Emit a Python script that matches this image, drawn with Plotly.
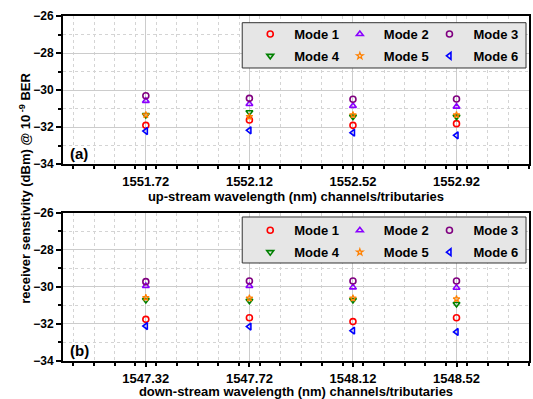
import plotly.graph_objects as go
from plotly.subplots import make_subplots

# Channel wavelengths (nm)
up_wavelengths = [1551.72, 1552.12, 1552.52, 1552.92]
down_wavelengths = [1547.32, 1547.72, 1548.12, 1548.52]

modes = ["Mode 1", "Mode 2", "Mode 3", "Mode 4", "Mode 5", "Mode 6"]

# Receiver sensitivity (dBm) @ 1e-9 BER, up-stream
up_mode1 = [-31.91, -31.62, -31.91, -31.82]
up_mode2 = [-30.59, -30.76, -30.86, -30.90]
up_mode3 = [-30.31, -30.45, -30.50, -30.49]
up_mode4 = [-31.35, -31.20, -31.44, -31.44]
up_mode5 = [-31.35, -31.44, -31.35, -31.35]
up_mode6 = [-32.22, -32.18, -32.31, -32.45]

# Receiver sensitivity (dBm) @ 1e-9 BER, down-stream
down_mode1 = [-31.75, -31.66, -31.87, -31.66]
down_mode2 = [-29.95, -29.95, -30.02, -30.04]
down_mode3 = [-29.71, -29.68, -29.68, -29.68]
down_mode4 = [-30.70, -30.74, -30.70, -30.92]
down_mode5 = [-30.58, -30.61, -30.61, -30.65]
down_mode6 = [-32.11, -32.14, -32.36, -32.43]

up_series = [up_mode1, up_mode2, up_mode3, up_mode4, up_mode5, up_mode6]
down_series = [down_mode1, down_mode2, down_mode3, down_mode4, down_mode5, down_mode6]

symbols = ["circle-open", "triangle-up-open", "circle-open",
           "triangle-down-open", "star-open", "triangle-left-open"]
colors = ["#ff0000", "#8a00ff", "#800080", "#008000", "#ff8000", "#0000ff"]

FONT = "Liberation Sans, Arial, sans-serif"
title_font = dict(family=FONT, size=13, color="black", weight="bold")

fig = make_subplots(rows=2, cols=1, vertical_spacing=0.142)

# Legend layout: three columns per panel (Mode 1/4, Mode 2/5, Mode 3/6)
top_legends = ["legend", "legend2", "legend3"]
bottom_legends = ["legend4", "legend5", "legend6"]


def marker_style(i):
    # the star glyph reads larger than the others, so draw it a bit smaller
    size = 5 if symbols[i].startswith("star") else 6
    width = 1.2 if symbols[i].startswith("star") else 1.6
    return dict(symbol=symbols[i], color=colors[i], size=size,
                line=dict(width=width, color=colors[i]))


for i, name in enumerate(modes):
    fig.add_trace(go.Scatter(
        x=up_wavelengths, y=up_series[i], mode="markers", name=name,
        marker=marker_style(i),
        legend=top_legends[i % 3], legendgroup="up" + name), row=1, col=1)
for i, name in enumerate(modes):
    fig.add_trace(go.Scatter(
        x=down_wavelengths, y=down_series[i], mode="markers", name=name,
        marker=marker_style(i),
        legend=bottom_legends[i % 3], legendgroup="down" + name), row=2, col=1)

xaxis_common = dict(
    dtick=0.4, ticks="outside", ticklen=4, tickwidth=1.5, tickcolor="black",
    showline=True, linewidth=2, linecolor="black", mirror=True,
    showgrid=True, gridcolor="#cccccc", gridwidth=1,
    minor=dict(dtick=0.08, ticks="outside", ticklen=3, tickcolor="black",
               showgrid=True, gridcolor="#d4d4d4", griddash="dot"),
    tickfont=dict(family=FONT, size=13, color="black", weight="bold"),
    zeroline=False,
)
fig.update_xaxes(range=[1551.40, 1553.20], tick0=1551.72,
                 tickformat=".2f", **xaxis_common,
                 title=dict(text="up-stream wavelength (nm) channels/tributaries",
                            font=title_font, standoff=0),
                 row=1, col=1)
fig.update_xaxes(range=[1547.00, 1548.80], tick0=1547.32,
                 tickformat=".2f", **xaxis_common,
                 title=dict(text="down-stream wavelength (nm) channels/tributaries",
                            font=title_font, standoff=0),
                 row=2, col=1)

fig.update_yaxes(
    range=[-34, -26], dtick=2, ticks="outside", ticklen=5, tickwidth=1.5,
    tickcolor="black", showline=True, linewidth=2, linecolor="black", mirror=True,
    showgrid=True, gridcolor="#cccccc", gridwidth=1,
    minor=dict(dtick=1, ticks="outside", ticklen=3, tickcolor="black",
               showgrid=True, gridcolor="#d4d4d4", griddash="dot"),
    tickfont=dict(family=FONT, size=12, color="black", weight="bold"),
    zeroline=False,
)

legend_common = dict(
    orientation="v", xanchor="left", yanchor="top",
    bgcolor="rgba(0,0,0,0)", borderwidth=0,
    font=dict(family=FONT, size=13, color="black", weight="bold"),
    itemwidth=38, tracegroupgap=2,
)
col_x = [0.3932, 0.5855, 0.7778]
legends = {}
for k, lg in enumerate(top_legends):
    legends[lg] = dict(x=col_x[k], y=0.9913, **legend_common)
for k, lg in enumerate(bottom_legends):
    legends[lg] = dict(x=col_x[k], y=0.4223, **legend_common)

# Legend frames (grey boxes behind the legend columns)
box_style = dict(type="rect", xref="paper", yref="paper", layer="above",
                 fillcolor="#e6e6e6", line=dict(color="#333333", width=1))
shapes = [
    dict(x0=0.3846, x1=0.9936, y0=0.8493, y1=0.9806, **box_style),
    dict(x0=0.3846, x1=0.9936, y0=0.2841, y1=0.4174, **box_style),
]

fig.update_layout(
    width=533, height=399,
    margin=dict(l=63, r=2, t=16, b=38),
    paper_bgcolor="white", plot_bgcolor="white",
    showlegend=True,
    shapes=shapes,
    annotations=[
        dict(text="receiver senstivity (dBm) @ 10<sup> -9</sup> BER",
             xref="paper", yref="paper", x=-0.083, y=0.5,
             xanchor="center", yanchor="middle", textangle=-90, showarrow=False,
             font=title_font),
        dict(text="(a)", xref="x domain", yref="y domain", x=0.01, y=0.0,
             xanchor="left", yanchor="bottom", showarrow=False,
             font=dict(family=FONT, size=15, color="black", weight="bold")),
        dict(text="(b)", xref="x2 domain", yref="y2 domain", x=0.01, y=0.0,
             xanchor="left", yanchor="bottom", showarrow=False,
             font=dict(family=FONT, size=15, color="black", weight="bold")),
    ],
    **legends,
)

fig.write_html("out.html")
